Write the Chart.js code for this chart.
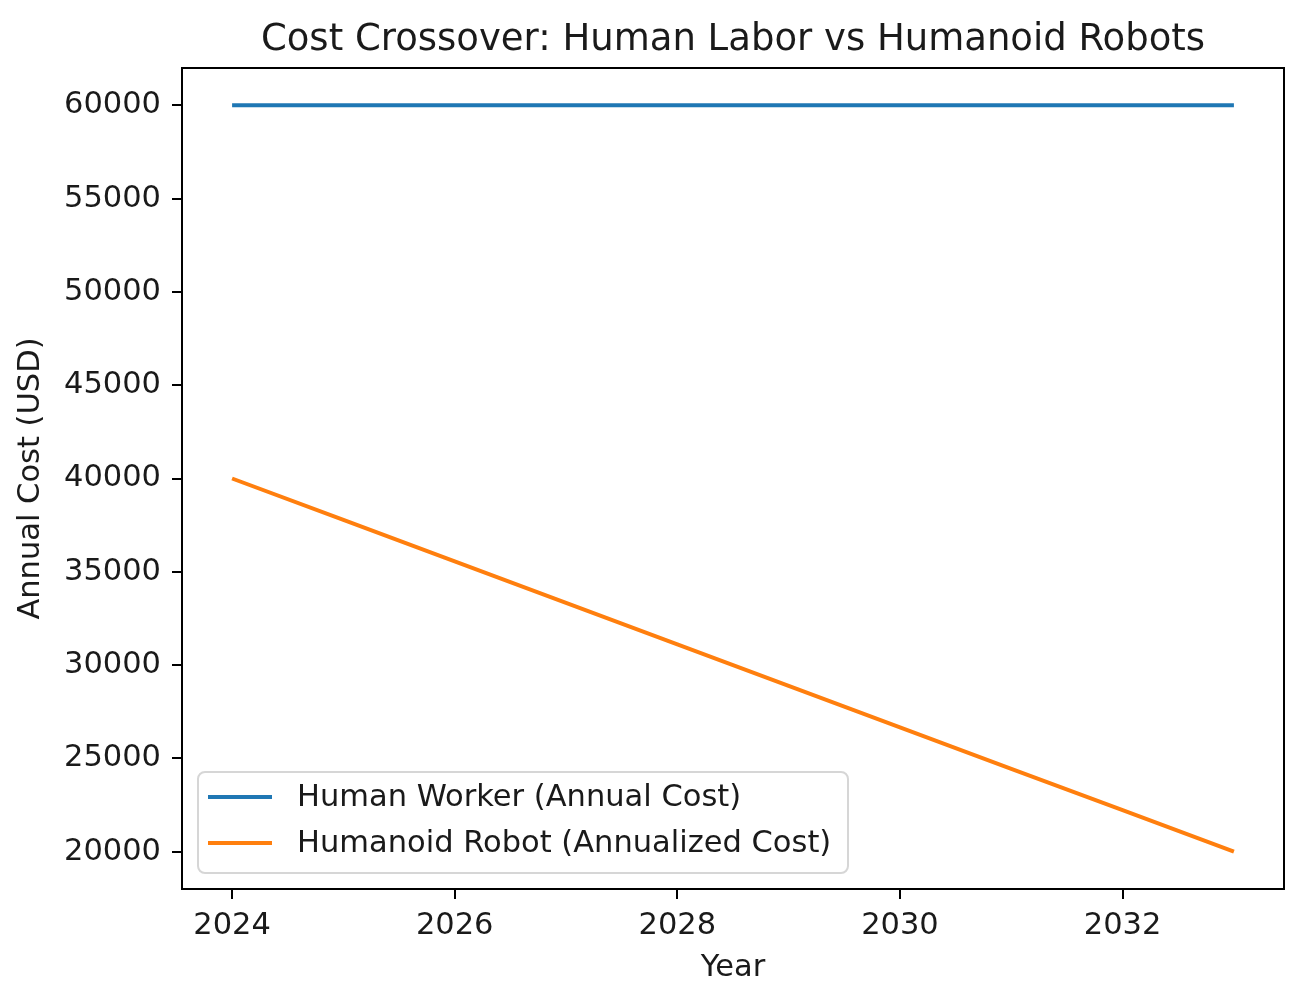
<!DOCTYPE html>
<html>
<head>
<meta charset="utf-8">
<script src="https://cdn.jsdelivr.net/npm/chart.js@4.4.1/dist/chart.umd.min.js"></script>
<style>
  html, body { margin: 0; padding: 0; background: #fff; }
  #wrap { width: 1302px; height: 1003px; position: relative; }
</style>
</head>
<body>
<div id="wrap"><canvas id="costChart"></canvas></div>
<script>
let years = [2024, 2025, 2026, 2027, 2028, 2029, 2030, 2031, 2032, 2033];
let humanCost = [60000, 60000, 60000, 60000, 60000, 60000, 60000, 60000, 60000, 60000];
let robotCost = [40000, 37778, 35556, 33333, 31111, 28889, 26667, 24444, 22222, 20000];
let xTicks = [2024, 2026, 2028, 2030, 2032];
let yTicks = [20000, 25000, 30000, 35000, 40000, 45000, 50000, 55000, 60000];
let seriesNames = ['Human Worker (Annual Cost)', 'Humanoid Robot (Annualized Cost)'];
let chartTitle = 'Cost Crossover: Human Labor vs Humanoid Robots';

let font = 'DejaVu Sans';
let textColor = '#1a1a1a';
let labelSize = 30.5;

function toPoints(xs, ys) {
  let pts = [];
  for (let i = 0; i < xs.length; i++) {
    pts.push({x: xs[i], y: ys[i]});
  }
  return pts;
}

// title over the plot, top/right frame lines, boxed legend inside the plot
let framePlugin = {
  id: 'frame',
  afterDraw(chart) {
    let c = chart.ctx;
    let a = chart.chartArea;
    c.save();

    c.font = '37px "' + font + '"';
    c.fillStyle = textColor;
    c.textAlign = 'center';
    c.textBaseline = 'alphabetic';
    c.fillText(chartTitle, (a.left + a.right) / 2, 50);

    c.strokeStyle = '#000';
    c.lineWidth = 2;
    c.beginPath();
    c.moveTo(a.left, a.top);
    c.lineTo(a.right, a.top);
    c.lineTo(a.right, a.bottom);
    c.stroke();

    // legend box
    let bx = 198, by = 772, bw = 650, bh = 101, r = 7;
    c.beginPath();
    c.moveTo(bx + r, by);
    c.arcTo(bx + bw, by, bx + bw, by + bh, r);
    c.arcTo(bx + bw, by + bh, bx, by + bh, r);
    c.arcTo(bx, by + bh, bx, by, r);
    c.arcTo(bx, by, bx + bw, by, r);
    c.closePath();
    c.fillStyle = 'rgba(255,255,255,0.8)';
    c.fill();
    c.strokeStyle = '#d6d6d6';
    c.lineWidth = 2;
    c.stroke();

    c.font = labelSize + 'px "' + font + '"';
    c.textAlign = 'left';
    c.textBaseline = 'middle';
    c.fillStyle = textColor;
    chart.data.datasets.forEach(function(ds, i) {
      let y = 797 + i * 46;
      c.strokeStyle = ds.borderColor;
      c.lineWidth = 4;
      c.beginPath();
      c.moveTo(208, y);
      c.lineTo(272, y);
      c.stroke();
      c.fillText(ds.label, 297, y + 1);
    });
    c.restore();
  }
};

let ctx = document.getElementById('costChart').getContext('2d');

let costChart = new Chart(ctx, {
  type: 'line',
  data: {
    datasets: [
      {
        label: seriesNames[0],
        data: toPoints(years, humanCost),
        borderColor: '#1f77b4',
        borderWidth: 4,
        pointRadius: 0,
        fill: false,
        tension: 0
      },
      {
        label: seriesNames[1],
        data: toPoints(years, robotCost),
        borderColor: '#ff7f0e',
        borderWidth: 4,
        pointRadius: 0,
        fill: false,
        tension: 0
      }
    ]
  },
  options: {
    responsive: true,
    maintainAspectRatio: false,
    animation: false,
    layout: {
      padding: {top: 68, right: 18, bottom: 0, left: 0}
    },
    plugins: {
      legend: { display: false },
      tooltip: { enabled: false },
      title: { display: false }
    },
    scales: {
      x: {
        type: 'linear',
        min: 2023.55,
        max: 2033.45,
        afterBuildTicks: function(scale) {
          scale.ticks = xTicks.map(function(v) { return {value: v}; });
        },
        afterFit: function(scale) {
          scale.height = 114;
        },
        ticks: {
          color: textColor,
          font: { family: font, size: labelSize },
          padding: 9,
          maxRotation: 0,
          callback: function(v) { return String(v); }
        },
        grid: {
          display: true,
          drawOnChartArea: false,
          drawTicks: true,
          tickLength: 10,
          color: '#000',
          lineWidth: 2
        },
        border: { display: true, color: '#000', width: 2 },
        title: {
          display: true,
          text: 'Year',
          color: textColor,
          font: { family: font, size: labelSize },
          padding: { top: 0, bottom: 17 }
        }
      },
      y: {
        type: 'linear',
        min: 18000,
        max: 62000,
        afterBuildTicks: function(scale) {
          scale.ticks = yTicks.map(function(v) { return {value: v}; });
        },
        afterFit: function(scale) {
          scale.width = 182;
        },
        ticks: {
          color: textColor,
          font: { family: font, size: labelSize },
          padding: 11,
          callback: function(v) { return String(v); }
        },
        grid: {
          display: true,
          drawOnChartArea: false,
          drawTicks: true,
          tickLength: 10,
          color: '#000',
          lineWidth: 2
        },
        border: { display: true, color: '#000', width: 2 },
        title: {
          display: true,
          text: 'Annual Cost (USD)',
          color: textColor,
          font: { family: font, size: labelSize },
          padding: { top: 13, bottom: 0 }
        }
      }
    }
  },
  plugins: [framePlugin]
});
</script>
</body>
</html>
